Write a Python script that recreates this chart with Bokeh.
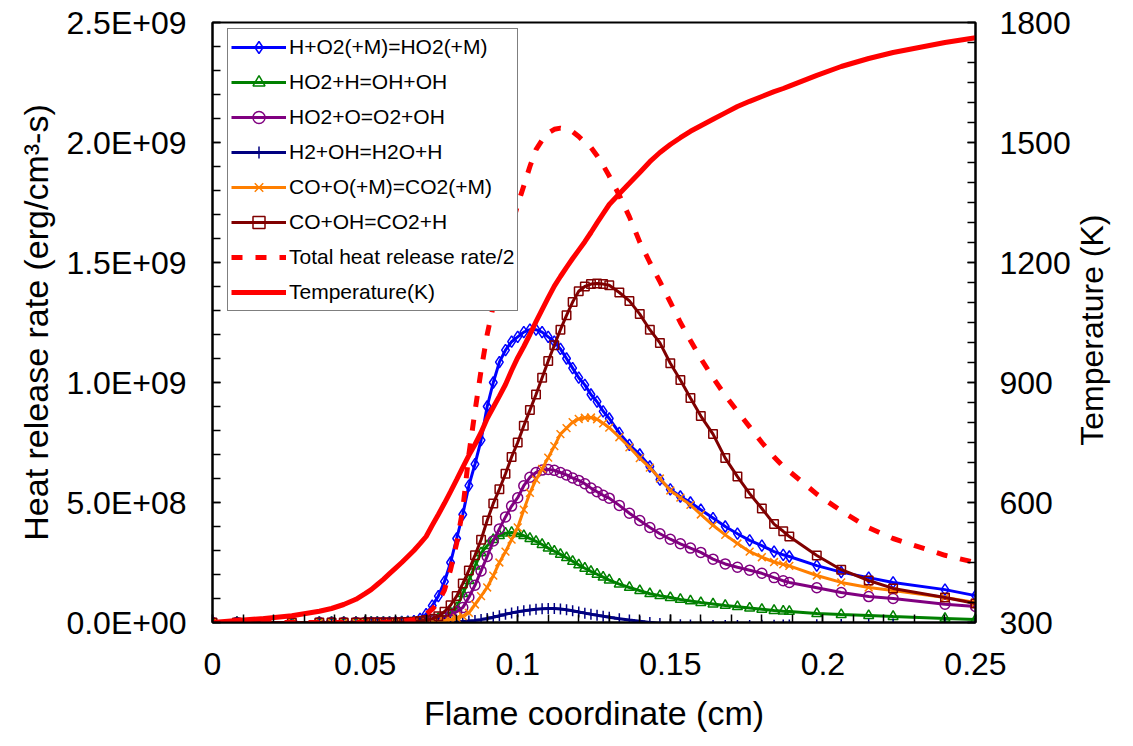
import math
import numpy as np
from bokeh.plotting import figure
from bokeh.models import (Range1d, LinearAxis, FixedTicker, CustomJSTickFormatter,
                          Legend, LegendItem)
from bokeh.embed import file_html
from bokeh.resources import INLINE

# ---------------- data ----------------
flame_x = [0, 0.008, 0.017, 0.026, 0.035, 0.039, 0.043, 0.047,
           0.050, 0.052, 0.054, 0.056, 0.058, 0.060, 0.062, 0.064, 0.066, 0.068,
           0.070, 0.072, 0.074, 0.076, 0.078, 0.080, 0.082, 0.084, 0.086, 0.088,
           0.090, 0.092, 0.094, 0.096, 0.098, 0.100, 0.102, 0.104, 0.106, 0.108,
           0.110, 0.112, 0.114, 0.116, 0.118, 0.120, 0.122, 0.124, 0.126, 0.128,
           0.130, 0.1333, 0.1366, 0.140, 0.1433, 0.1466, 0.150, 0.1533, 0.1566, 0.160,
           0.164, 0.168, 0.172, 0.176, 0.180, 0.184, 0.187, 0.189, 0.198, 0.206,
           0.215, 0.223, 0.240, 0.250]

# heat release rates in units of 1E+08 erg/cm3-s
h_o2_m = [0, 0, 0, 0, 0, 0, 0, 0,
          0, 0, 0, 0, 0, 0.01, 0.02, 0.03, 0.06, 0.15,
          0.35, 0.7, 1.1, 1.7, 2.5, 3.5, 4.5, 5.7, 6.6, 7.6,
          9.0, 10.0, 10.85, 11.35, 11.7, 11.9, 12.1, 12.2, 12.2, 12.1,
          11.9, 11.7, 11.4, 11.0, 10.6, 10.2, 9.9, 9.5, 9.2, 8.8,
          8.5, 7.9, 7.4, 7.0, 6.5, 5.95, 5.55, 5.25, 5.0, 4.7,
          4.35, 4.0, 3.7, 3.42, 3.2, 2.95, 2.82, 2.75, 2.37, 2.1,
          1.87, 1.67, 1.37, 1.12]
ho2_h = [0, 0, 0, 0, 0, 0, 0, 0,
         0, 0, 0, 0, 0, 0, 0, 0, 0.01, 0.03,
         0.05, 0.1, 0.17, 0.25, 0.4, 0.62, 1.2, 1.75, 2.35, 2.9,
         3.2, 3.45, 3.62, 3.72, 3.75, 3.7, 3.62, 3.5, 3.38, 3.25,
         3.1, 2.97, 2.84, 2.7, 2.55, 2.4, 2.26, 2.13, 2.01, 1.89,
         1.77, 1.6, 1.46, 1.33, 1.2, 1.12, 1.04, 0.96, 0.9, 0.83,
         0.77, 0.71, 0.66, 0.6, 0.55, 0.5, 0.47, 0.46, 0.37, 0.33,
         0.29, 0.25, 0.17, 0.12]
ho2_o = [0, 0, 0, 0, 0, 0, 0, 0,
         0, 0, 0, 0, 0, 0, 0, 0, 0.01, 0.02,
         0.03, 0.06, 0.1, 0.18, 0.3, 0.45, 0.62, 1.05, 1.55, 2.15,
         2.75, 3.4, 3.9, 4.4, 4.85, 5.2, 5.7, 6.05, 6.25, 6.35,
         6.38, 6.34, 6.25, 6.15, 6.02, 5.92, 5.78, 5.6, 5.45, 5.3,
         5.18, 4.88, 4.55, 4.25, 3.96, 3.7, 3.47, 3.28, 3.1, 2.92,
         2.64, 2.44, 2.3, 2.18, 2.05, 1.87, 1.74, 1.67, 1.45, 1.25,
         1.08, 1.0, 0.76, 0.67]
h2_oh = [0, 0, 0, 0, 0, 0, 0, 0,
         0, 0, 0, 0, 0, 0, 0, 0, 0, -0.01,
         -0.02, -0.03, -0.03, -0.02, 0.0, 0.02, 0.04, 0.06, 0.08, 0.12,
         0.17, 0.22, 0.28, 0.34, 0.4, 0.45, 0.49, 0.52, 0.55, 0.57,
         0.58, 0.58, 0.56, 0.53, 0.49, 0.44, 0.39, 0.34, 0.3, 0.26,
         0.22, 0.16, 0.1, 0.05, 0.0, -0.04, -0.07, -0.09, -0.1, -0.11,
         -0.12, -0.12, -0.12, -0.12, -0.11, -0.11, -0.1, -0.1, -0.09, -0.08,
         -0.07, -0.06, -0.04, -0.03]
co_o_m = [0, 0, 0, 0, 0, 0, 0, 0,
          0, 0, 0, 0, 0, 0, 0, 0, 0, 0.01,
          0.01, 0.02, 0.04, 0.07, 0.12, 0.18, 0.27, 0.4, 0.75, 1.1,
          1.46, 1.95, 2.5, 2.95, 3.45, 3.96, 4.7, 5.4, 5.95, 6.4,
          6.87, 7.35, 7.85, 8.1, 8.35, 8.48, 8.53, 8.54, 8.47, 8.3,
          8.12, 7.72, 7.3, 6.85, 6.45, 6.0, 5.5, 5.2, 4.9, 4.5,
          4.05, 3.65, 3.29, 2.95, 2.72, 2.52, 2.42, 2.36, 1.96, 1.67,
          1.46, 1.33, 1.04, 0.83]
co_oh = [0, 0, 0, 0, 0, 0, 0, 0,
         0, 0, 0, 0, 0, 0, 0.01, 0.02, 0.03, 0.06,
         0.1, 0.16, 0.26, 0.45, 0.72, 1.1, 1.62, 2.17, 2.8, 3.45,
         4.25, 4.96, 5.55, 6.2, 6.9, 7.5, 8.2, 8.85, 9.5, 10.2,
         10.9, 11.55, 12.2, 12.8, 13.35, 13.8, 14.0, 14.1, 14.12, 14.1,
         14.05, 13.75, 13.4, 12.85, 12.2, 11.65, 10.8, 10.1, 9.35, 8.6,
         7.85, 6.85, 6.08, 5.37, 4.75, 4.1, 3.8, 3.58, 2.79, 2.2,
         1.75, 1.42, 1.04, 0.79]
total_half = [0, 0, 0, 0, 0, 0, 0, 0,
              0, 0, 0, 0.01, 0.02, 0.03, 0.05, 0.08, 0.12, 0.2,
              0.35, 0.55, 0.85, 1.35, 2.2, 3.3, 4.7, 7.0, 8.8, 10.5,
              12.0, 13.2, 14.4, 15.5, 16.5, 17.4, 18.2, 19.0, 19.7, 20.1,
              20.4, 20.55, 20.6, 20.55, 20.45, 20.25, 20.0, 19.8, 19.45, 19.05,
              18.6, 17.8, 16.9, 15.85, 15.0, 14.2, 13.35, 12.5, 11.75, 11.0,
              10.2, 9.46, 8.8, 8.15, 7.5, 6.9, 6.5, 6.3, 5.35, 4.65,
              3.95, 3.5, 2.8, 2.5]
temperature = [300, 305, 310, 317, 328, 335, 345, 358,
               372, 382, 395, 408, 422, 436, 450, 465, 480, 497,
               515, 543, 570, 598, 627, 657, 688, 718, 745, 775,
               810, 838, 866, 895, 930, 962, 990, 1020, 1052, 1082,
               1112, 1141, 1165, 1188, 1210, 1231, 1252, 1275, 1299, 1322,
               1345, 1372, 1398, 1425, 1452, 1475, 1495, 1512, 1528, 1542,
               1558, 1574, 1590, 1603, 1615, 1627, 1635, 1641, 1668, 1690,
               1710, 1725, 1750, 1762]

hrr_unit = 1e8

series_names = ["H+O2(+M)=HO2(+M)", "HO2+H=OH+OH", "HO2+O=O2+OH",
                "H2+OH=H2O+H", "CO+O(+M)=CO2(+M)", "CO+OH=CO2+H"]
series_values = [h_o2_m, ho2_h, ho2_o, h2_oh, co_o_m, co_oh]
series_colors = ["#0000FF", "#008000", "#800080", "#000080", "#FF7F00", "#800000"]
series_markers = ["diamond", "triangle", "circle", "cross", "x", "square"]

x_ticks = [0, 0.05, 0.1, 0.15, 0.2, 0.25]
x_tick_labels = ["0", "0.05", "0.1", "0.15", "0.2", "0.25"]
y_ticks = [0, 5e8, 1e9, 1.5e9, 2e9, 2.5e9]
y_tick_labels = ["0.0E+00", "5.0E+08", "1.0E+09", "1.5E+09", "2.0E+09", "2.5E+09"]
t_ticks = [300, 600, 900, 1200, 1500, 1800]
right_title = "Temperature (K)"

FONT = "Liberation Sans"

# ---------------- figure ----------------
p = figure(width=1133, height=746, output_backend="svg", toolbar_location=None,
           x_range=Range1d(0, 0.25), y_range=Range1d(0, 2.5e9),
           min_border_left=212, min_border_right=158,
           min_border_top=22, min_border_bottom=124)
p.extra_y_ranges = {"temp": Range1d(300, 1800)}
p.xgrid.visible = False
p.ygrid.visible = False
p.outline_line_color = "black"
p.outline_line_width = 2
p.background_fill_color = "white"
p.border_fill_color = "white"

marker_sizes = {"diamond": 11.5, "square": 8.5, "triangle": 10, "circle": 10, "cross": 11, "x": 11}

x = np.array(flame_x)
items = []
for name, vals, col, mk in zip(series_names, series_values, series_colors, series_markers):
    yv = np.array(vals) * hrr_unit
    ln = p.line(x, yv, line_color=col, line_width=3)
    sc = p.scatter(x, yv, marker=mk, size=marker_sizes[mk], line_color=col,
                   line_width=1.5, fill_alpha=0)
    items.append(LegendItem(label=name, renderers=[ln, sc]))

tot = p.line(x, np.array(total_half) * hrr_unit, line_color="#FF0000",
             line_width=5, line_dash="11 13")
items.append(LegendItem(label="Total heat release rate/2", renderers=[tot]))
tem = p.line(x, temperature, line_color="#FF0000", line_width=5, y_range_name="temp")
items.append(LegendItem(label="Temperature(K)", renderers=[tem]))

# ---------------- axes ----------------
fmt_code = """
const i = tvals.findIndex(t => Math.abs(t - tick) <= 1e-9 * Math.max(1, Math.abs(t)));
return i >= 0 ? tlabels[i] : '';
"""
xaxis = p.below[0]
laxis = p.left[0]
xaxis.ticker = FixedTicker(ticks=x_ticks, minor_ticks=list(np.round(np.arange(0, 0.2501, 0.01), 4)))
xaxis.formatter = CustomJSTickFormatter(args=dict(tvals=x_ticks, tlabels=x_tick_labels), code=fmt_code)
laxis.ticker = FixedTicker(ticks=y_ticks, minor_ticks=list(np.arange(0, 2.5e9 + 1, 1e8)))
laxis.formatter = CustomJSTickFormatter(args=dict(tvals=y_ticks, tlabels=y_tick_labels), code=fmt_code)

raxis = LinearAxis(y_range_name="temp",
                   ticker=FixedTicker(ticks=t_ticks, minor_ticks=list(range(300, 1801, 50))))
p.add_layout(raxis, "right")

xaxis.axis_label = "Flame coordinate (cm)"
laxis.axis_label = "Heat release rate (erg/cm\u00b3-s)"

for ax in [xaxis, laxis, raxis]:
    ax.axis_line_color = "black"
    ax.axis_line_width = 2
    ax.major_tick_in = 8
    ax.major_tick_out = 0
    ax.minor_tick_in = 8
    ax.minor_tick_out = 0
    ax.major_tick_line_color = "black"
    ax.minor_tick_line_color = "black"
    ax.major_tick_line_width = 1.5
    ax.minor_tick_line_width = 1.5
    ax.major_label_text_font = FONT
    ax.major_label_text_font_size = "32px"
    ax.major_label_text_color = "black"
    ax.axis_label_text_font = FONT
    ax.axis_label_text_font_size = "34px"
    ax.axis_label_text_font_style = "normal"
    ax.axis_label_text_color = "black"

xaxis.major_label_standoff = 30
xaxis.axis_label_standoff = 16
laxis.major_label_standoff = 26
laxis.axis_label_standoff = 8
raxis.major_label_standoff = 24

# right-hand title, reading bottom-to-top, drawn as the single label of a bare axis
title_anchor_temp = [742.0]   # temperature level where the rotated title starts
title_axis = LinearAxis(y_range_name="temp",
                        ticker=FixedTicker(ticks=title_anchor_temp, minor_ticks=[]),
                        formatter=CustomJSTickFormatter(args=dict(txt=right_title),
                                                        code="return txt;"))
title_axis.axis_line_color = None
title_axis.major_tick_line_color = None
title_axis.minor_tick_line_color = None
title_axis.major_tick_in = 0
title_axis.major_tick_out = 0
title_axis.major_label_orientation = math.pi / 2
title_axis.major_label_text_font = FONT
title_axis.major_label_text_font_size = "32px"
title_axis.major_label_text_color = "black"
title_axis.major_label_standoff = 19
p.add_layout(title_axis, "right")

legend = Legend(items=items, location=(15, 311))
legend.label_text_font = FONT
legend.label_text_font_size = "21px"
legend.label_text_color = "black"
legend.border_line_color = "black"
legend.border_line_width = 1
legend.background_fill_color = "white"
legend.background_fill_alpha = 1
legend.glyph_width = 55
legend.glyph_height = 30
legend.label_height = 30
legend.label_standoff = 3
legend.spacing = 5
legend.padding = 3
legend.margin = 0
p.add_layout(legend)

open("out.html", "w").write(file_html(p, INLINE))
